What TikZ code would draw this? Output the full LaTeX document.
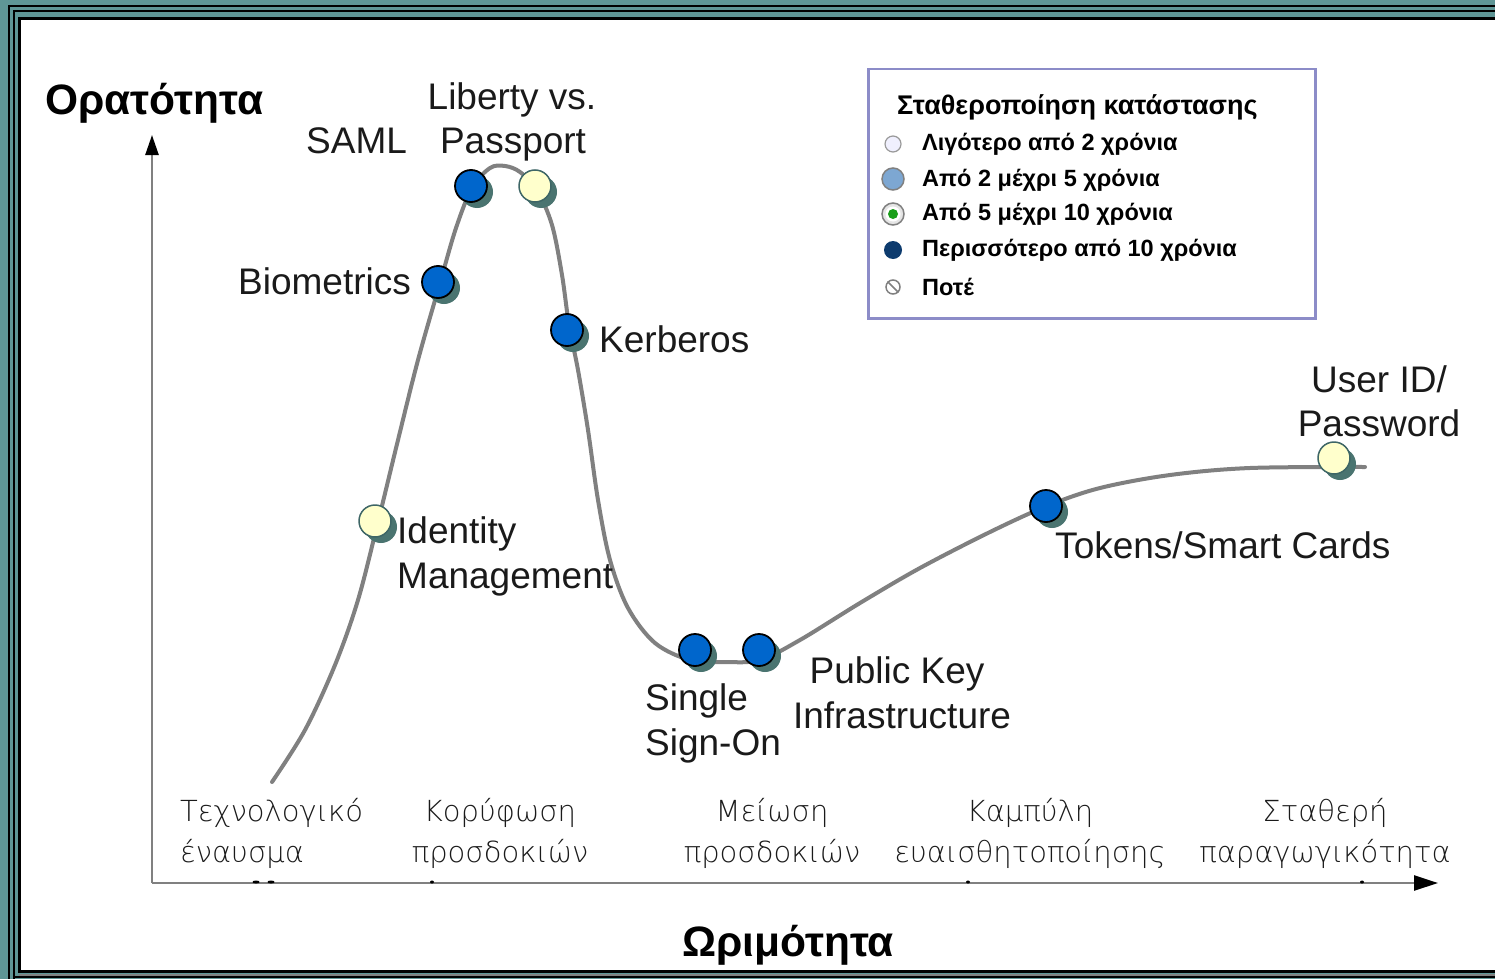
\documentclass[tikz,border=0pt]{standalone}
\usepackage{fontspec}
\setmainfont{Liberation Sans}
\newfontfamily\thinf{DejaVu Sans ExtraLight}
\usetikzlibrary{arrows.meta,shadows,shapes.geometric}
\definecolor{teal1}{HTML}{5F9696}
\definecolor{curvec}{HTML}{808080}
\definecolor{dotblue}{HTML}{0066CC}
\definecolor{dotcream}{HTML}{FFFFCC}
\definecolor{shadowc}{HTML}{4A7470}
\definecolor{creamline}{HTML}{3E6666}
\definecolor{legframe}{HTML}{8C8CC8}
\definecolor{txt}{HTML}{1A1A1A}
\tikzset{
  lbl/.style={anchor=base west, inner sep=0pt, text=txt, font=\fontsize{37}{44}\selectfont},
  lblc/.style={anchor=base, inner sep=0pt, text=txt, font=\fontsize{37}{44}\selectfont},
  stage/.style={anchor=base, inner sep=0pt, text=txt, font=\thinf\fontsize{29}{34}\selectfont},
  axtitle/.style={anchor=base west, inner sep=0pt, text=black, font=\bfseries\fontsize{42.5}{48}\selectfont},
  legtxt/.style={anchor=base west, inner sep=0pt, text=black, font=\bfseries\fontsize{23.5}{28}\selectfont},
  dotb/.style={circle, minimum size=32pt, inner sep=0pt, fill=dotblue, draw=black, line width=1.8pt,
    drop shadow={shadow xshift=6pt, shadow yshift=-6pt, fill=shadowc, opacity=1}},
  dotc/.style={circle, minimum size=32pt, inner sep=0pt, fill=dotcream, draw=creamline, line width=1.5pt,
    drop shadow={shadow xshift=6pt, shadow yshift=-6pt, fill=shadowc, opacity=1}},
  axis/.style={draw=curvec, line width=2.5pt},
  tickdot/.style={ellipse, minimum width=7pt, minimum height=3pt, inner sep=0pt, fill=black}
}
\begin{document}
\begin{tikzpicture}[x=1pt,y=-1pt]
\useasboundingbox (0,0) rectangle (1495,979);
% frame
\fill[teal1] (0,0) rectangle (1495,979);
\fill[white] (21,20) rectangle (1495,970);
\draw[black, line width=2pt] (1495,6) -- (8.5,6) -- (8.5,979);
\draw[black, line width=2pt] (1495,11.5) -- (13.5,11.5) -- (13.5,979);
\draw[black, line width=3pt] (1495,18.5) -- (19.5,18.5) -- (19.5,971.5) -- (1495,971.5);
\draw[curvec, line width=2pt] (19,974.5) -- (1495,974.5);
\draw[black, line width=2pt] (13.5,977) -- (1495,977);

% axes
\coordinate (O) at (152,883);
\coordinate (ytop) at (152,135);
\coordinate (xend) at (1438,883);
\draw[axis, -{Triangle[length=20pt,width=13pt,color=black]}] (O) -- (ytop);
\draw[axis, -{Triangle[length=24pt,width=15pt,color=black]}] (O) -- (xend);
\node[tickdot] (t1) at (256,882) {};
\node[tickdot] (t2) at (271,882) {};
\node[tickdot, minimum width=4pt] (t3) at (432,882) {};
\node[tickdot, minimum width=4pt] (t4) at (968,882) {};
\node[tickdot, minimum width=4pt] (t5) at (1362,882) {};

% hype curve
\draw[curvec, line width=4pt, line cap=round] plot[smooth, tension=0.55] coordinates {
 (272,782) (305,730) (335,665) (358,600) (378,522) (398,440) (418,360) (440,283)
 (456,228) (472,188) (490,168) (505,166) (520,172) (537,190) (552,225) (562,275) (569,325)
 (578,370) (588,430) (598,500) (610,560) (628,608) (655,643) (690,660) (725,662) (760,660)
 (800,640) (860,603) (920,568) (990,532) (1047,506) (1100,488) (1170,475) (1250,468) (1365,467)};

% dots
\node[dotb] (saml) at (471,186) {};
\node[dotc] (liberty) at (535,186) {};
\node[dotb] (bio) at (438,282) {};
\node[dotb] (kerb) at (567,330) {};
\node[dotc] (idm) at (375,521) {};
\node[dotb] (sso) at (695,650) {};
\node[dotb] (pki) at (759,650) {};
\node[dotb] (tok) at (1046,506) {};
\node[dotc] (uid) at (1334,458) {};

% labels
\node[axtitle] (ylab) at (45,114) {Ορατότητα};
\node[axtitle] (xlab) at (682,956) {Ωριμότητα};
\node[lbl] (samlL) at (306,153) {SAML};
\node[lblc] (libL1) at (512,110) {Liberty vs.};
\node[lblc] (libL2) at (513,153) {Passport};
\node[lbl] (bioL) at (238,294) {Biometrics};
\node[lbl] (kerbL) at (599,352) {Kerberos};
\node[lbl] (idmL1) at (397,543) {Identity};
\node[lbl] (idmL2) at (397,588) {Management};
\node[lbl] (ssoL1) at (645,710) {Single};
\node[lbl] (ssoL2) at (645,755) {Sign-On};
\node[lblc] (pkiL1) at (897,683) {Public Key};
\node[lblc] (pkiL2) at (902,728) {Infrastructure};
\node[lbl] (tokL) at (1055,558) {Tokens/Smart Cards};
\node[lblc] (uidL1) at (1379,392) {User ID/};
\node[lblc] (uidL2) at (1379,436) {Password};

% stages
\node[stage, anchor=base west] (s1a) at (180,821) {Τεχνολογικό};
\node[stage, anchor=base west] (s1b) at (180,862) {έναυσμα};
\node[stage] (s2a) at (500,821) {Κορύφωση};
\node[stage] (s2b) at (500,862) {προσδοκιών};
\node[stage] (s3a) at (772,821) {Μείωση};
\node[stage] (s3b) at (772,862) {προσδοκιών};
\node[stage] (s4a) at (1030,821) {Καμπύλη};
\node[stage] (s4b) at (1030,862) {ευαισθητοποίησης};
\node[stage] (s5a) at (1325,821) {Σταθερή};
\node[stage] (s5b) at (1325,862) {παραγωγικότητα};

% legend
\node[draw=legframe, line width=2.5pt, minimum width=447pt, minimum height=249pt, anchor=north west, inner sep=0pt] (leg) at (867,68) {};
\node[anchor=base west, inner sep=0pt, font=\bfseries\fontsize{27}{32}\selectfont] (legT) at (897,115) {Σταθεροποίηση κατάστασης};
\node[circle, minimum size=16pt, inner sep=0pt, fill=black!8!blue!6, draw=gray!80, line width=1.2pt] (i1) at (893,144) {};
\node[circle, minimum size=22pt, inner sep=0pt, fill={rgb,255:red,125;green,167;blue,210}, draw=gray, line width=1.5pt] (i2) at (893,179) {};
\node[circle, minimum size=22pt, inner sep=0pt, fill=gray!20, draw=gray, line width=1.5pt] (i3) at (893,214) {};
\node[circle, minimum size=15pt, inner sep=0pt, fill=white] (i3b) at (893,214) {};
\node[circle, minimum size=10pt, inner sep=0pt, fill={rgb,255:red,26;green,158;blue,26}] (i3c) at (893,214) {};
\node[circle, minimum size=18pt, inner sep=0pt, fill={rgb,255:red,13;green,59;blue,110}] (i4) at (893,250) {};
\node[circle, minimum size=14pt, inner sep=0pt, fill=white, draw=gray, line width=1.5pt] (i5) at (893,287) {};
\draw[gray, line width=1.5pt] (i5.north west) -- (i5.south east);
\node[legtxt] (l1) at (922,150) {Λιγότερο από 2 χρόνια};
\node[legtxt] (l2) at (922,186) {Από 2 μέχρι 5 χρόνια};
\node[legtxt] (l3) at (922,220) {Από 5 μέχρι 10 χρόνια};
\node[legtxt] (l4) at (922,256) {Περισσότερο από 10 χρόνια};
\node[legtxt] (l5) at (922,295) {Ποτέ};
\end{tikzpicture}
\end{document}
